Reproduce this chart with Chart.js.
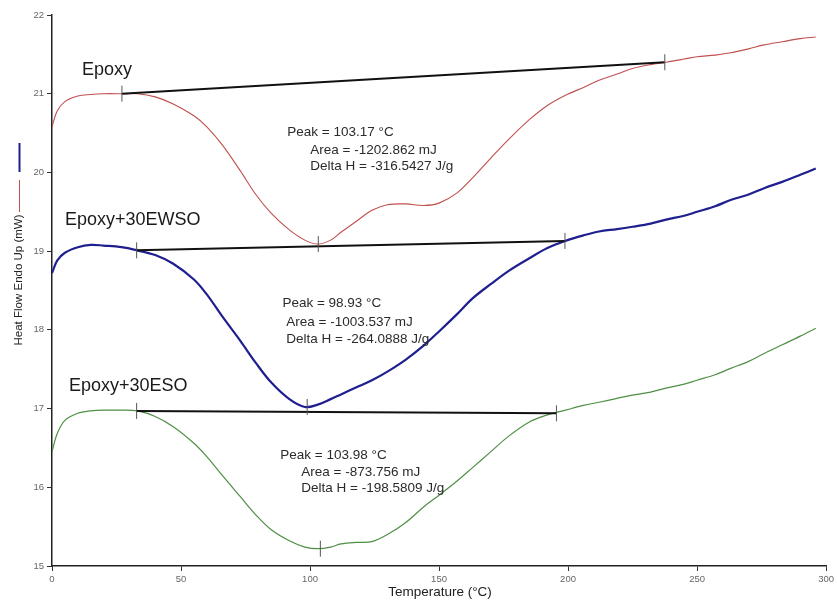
<!DOCTYPE html>
<html>
<head>
<meta charset="utf-8">
<script src="https://cdn.jsdelivr.net/npm/chart.js@4/dist/chart.umd.min.js"></script>
<style>
  html, body { margin: 0; padding: 0; background: #fff; }
  #wrap { width: 837px; height: 603px; }
</style>
</head>
<body>
<div id="wrap"><canvas id="dscChart" width="837" height="603"></canvas></div>
<script>
// DSC curves
const tempC = [0, 2, 5, 10, 15, 20, 27, 33, 40, 47, 55, 60, 66, 73, 79, 85, 92, 98, 103, 108, 112, 118, 124, 130, 137, 144, 150, 157, 163, 170, 177, 185, 192, 199, 206, 212, 219, 225, 232, 238, 245, 250, 257, 263, 270, 276, 283, 290, 296];

const epoxy = [20.58, 20.78, 20.90, 20.97, 20.99, 21.00, 21.00, 21.00, 20.96, 20.87, 20.72, 20.58, 20.35, 20.02, 19.72, 19.48, 19.27, 19.14, 19.09, 19.14, 19.24, 19.38, 19.52, 19.59, 19.60, 19.58, 19.61, 19.74, 19.93, 20.18, 20.42, 20.67, 20.85, 20.98, 21.08, 21.17, 21.25, 21.32, 21.37, 21.40, 21.44, 21.47, 21.49, 21.52, 21.57, 21.62, 21.66, 21.70, 21.72];

const ewso = [18.72, 18.88, 18.98, 19.05, 19.08, 19.07, 19.05, 19.01, 18.95, 18.84, 18.64, 18.45, 18.17, 17.86, 17.58, 17.33, 17.12, 17.02, 17.05, 17.12, 17.18, 17.27, 17.36, 17.47, 17.62, 17.80, 17.98, 18.20, 18.40, 18.58, 18.75, 18.91, 19.04, 19.13, 19.20, 19.25, 19.28, 19.31, 19.35, 19.40, 19.45, 19.50, 19.57, 19.65, 19.72, 19.80, 19.88, 19.97, 20.05];

const eso = [16.45, 16.68, 16.85, 16.94, 16.97, 16.98, 16.98, 16.97, 16.90, 16.77, 16.56, 16.39, 16.15, 15.88, 15.65, 15.46, 15.32, 15.24, 15.22, 15.24, 15.28, 15.30, 15.31, 15.40, 15.55, 15.75, 15.90, 16.08, 16.25, 16.45, 16.65, 16.83, 16.92, 16.98, 17.04, 17.08, 17.13, 17.17, 17.21, 17.26, 17.31, 17.36, 17.43, 17.51, 17.60, 17.70, 17.81, 17.92, 18.02];

// integration baselines: [start T, start y, end T, end y]
const epoxyBase = [27.1, 21.00, 237.5, 21.40];
const ewsoBase = [32.8, 19.01, 198.8, 19.13];
const esoBase = [32.8, 16.97, 195.5, 16.94];

// small vertical markers (onset, end, peak)
const markT = [27.1, 237.5, 103.2, 32.8, 198.8, 98.9, 32.8, 195.5, 104.0];
const markY = [21.00, 21.40, 19.09, 19.01, 19.13, 17.02, 16.97, 16.94, 15.22];

const xTicks = [0, 50, 100, 150, 200, 250, 300];
const yTicks = [15, 16, 17, 18, 19, 20, 21, 22];

const seriesNames = ["Epoxy", "Epoxy+30EWSO", "Epoxy+30ESO"];
const notes = [
  ["Peak = 103.17 °C", "Area = -1202.862 mJ", "Delta H = -316.5427 J/g"],
  ["Peak = 98.93 °C", "Area = -1003.537 mJ", "Delta H = -264.0888 J/g"],
  ["Peak = 103.98 °C", "Area = -873.756 mJ", "Delta H = -198.5809 J/g"]
];

const RED = "#c0504d";
const BLUE = "#1f1f8f";
const GREEN = "#4f8f45";

function pts(ys) {
  return tempC.map((t, i) => ({ x: t, y: ys[i] }));
}
function basePts(b) {
  return [{ x: b[0], y: b[1] }, { x: b[2], y: b[3] }];
}

// text placed in data units
const textPlugin = {
  id: "dscText",
  afterDatasetsDraw(chart) {
    const ctx = chart.ctx;
    const xs = chart.scales.x;
    const ys = chart.scales.y;
    const px = v => xs.getPixelForValue(v);
    const py = v => ys.getPixelForValue(v);

    ctx.save();
    ctx.textBaseline = "middle";
    ctx.textAlign = "left";

    // series names
    ctx.fillStyle = "#1a1a1a";
    ctx.font = "18px 'Liberation Sans', Arial, sans-serif";
    ctx.fillText(seriesNames[0], px(11.6), py(21.30));
    ctx.fillText(seriesNames[1], px(5.0), py(19.40));
    ctx.fillText(seriesNames[2], px(6.6), py(17.29));

    // peak notes
    ctx.fillStyle = "#2b2b2b";
    ctx.font = "13.5px 'Liberation Sans', Arial, sans-serif";
    const spots = [
      [[91.2, 20.51], [100.1, 20.28], [100.1, 20.08]],
      [[89.3, 18.34], [90.8, 18.09], [90.8, 17.88]],
      [[88.5, 16.41], [96.6, 16.19], [96.6, 15.99]]
    ];
    notes.forEach((lines, i) => {
      lines.forEach((txt, j) => {
        ctx.fillText(txt, px(spots[i][j][0]), py(spots[i][j][1]));
      });
    });

    // x axis title
    ctx.fillStyle = "#222";
    ctx.textAlign = "center";
    ctx.font = "13.5px 'Liberation Sans', Arial, sans-serif";
    ctx.fillText("Temperature (°C)", 440, 592);

    // y axis title with line keys
    ctx.save();
    ctx.translate(19, 280);
    ctx.rotate(-Math.PI / 2);
    ctx.font = "11.5px 'Liberation Sans', Arial, sans-serif";
    ctx.fillText("Heat Flow Endo Up (mW)", 0, 0);
    ctx.restore();

    ctx.lineCap = "butt";
    ctx.strokeStyle = RED;
    ctx.lineWidth = 1;
    ctx.beginPath();
    ctx.moveTo(19.5, 180);
    ctx.lineTo(19.5, 212);
    ctx.stroke();
    ctx.strokeStyle = BLUE;
    ctx.lineWidth = 2;
    ctx.beginPath();
    ctx.moveTo(19.5, 143);
    ctx.lineTo(19.5, 172);
    ctx.stroke();

    ctx.restore();
  }
};

const curve = (label, ys, color, w) => ({
  label,
  data: pts(ys),
  borderColor: color,
  borderWidth: w,
  pointRadius: 0,
  fill: false,
  tension: 0.35,
  order: 2
});
const baseline = (b) => ({
  data: basePts(b),
  borderColor: "#111",
  borderWidth: 2,
  pointRadius: 0,
  fill: false,
  order: 1
});

new Chart(document.getElementById("dscChart"), {
  type: "line",
  data: {
    datasets: [
      curve(seriesNames[0], epoxy, RED, 1.1),
      curve(seriesNames[1], ewso, BLUE, 2.2),
      curve(seriesNames[2], eso, GREEN, 1.2),
      baseline(epoxyBase),
      baseline(ewsoBase),
      baseline(esoBase),
      {
        type: "scatter",
        data: markT.map((t, i) => ({ x: t, y: markY[i] })),
        pointStyle: "line",
        rotation: 90,
        pointRadius: 8,
        borderColor: "#555",
        borderWidth: 1,
        order: 0
      }
    ]
  },
  options: {
    responsive: false,
    animation: false,
    layout: { padding: { top: 15, right: 9, left: 0, bottom: 0 } },
    plugins: {
      legend: { display: false },
      tooltip: { enabled: false }
    },
    scales: {
      x: {
        type: "linear",
        min: 0,
        max: 300,
        afterBuildTicks: s => { s.ticks = xTicks.map(v => ({ value: v })); },
        afterFit: s => { s.height = 37; },
        grid: { drawOnChartArea: false, drawTicks: true, tickLength: 5, color: "#333" },
        border: { color: "#222", width: 1.5 },
        ticks: { color: "#666", font: { size: 9.5, family: "'Liberation Sans', Arial" }, padding: 3, maxRotation: 0 }
      },
      y: {
        type: "linear",
        min: 15,
        max: 22,
        afterBuildTicks: s => { s.ticks = yTicks.map(v => ({ value: v })); },
        afterFit: s => { s.width = 52; },
        grid: { drawOnChartArea: false, drawTicks: true, tickLength: 5, color: "#333" },
        border: { color: "#222", width: 1.5 },
        ticks: { color: "#666", font: { size: 9.5, family: "'Liberation Sans', Arial" }, padding: 3 }
      }
    }
  },
  plugins: [textPlugin]
});
</script>
</body>
</html>
